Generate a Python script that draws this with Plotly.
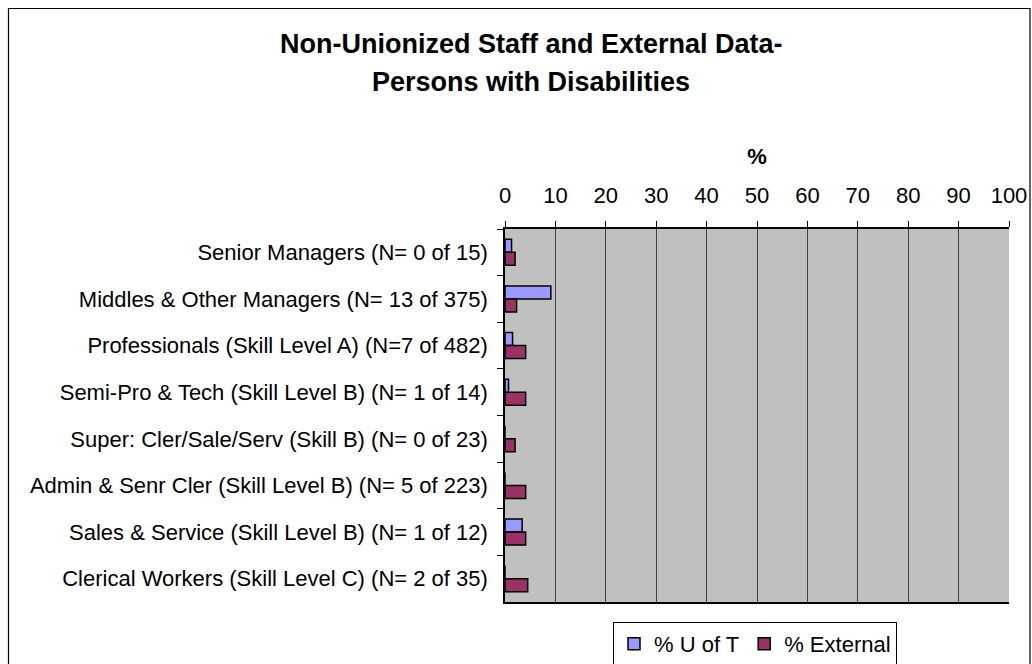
import plotly.graph_objects as go

categories = [
    "Senior Managers (N= 0 of 15)",
    "Middles & Other Managers (N= 13 of 375)",
    "Professionals (Skill Level A) (N=7 of 482)",
    "Semi-Pro & Tech (Skill Level B) (N= 1 of 14)",
    "Super: Cler/Sale/Serv (Skill B) (N= 0 of 23)",
    "Admin & Senr Cler (Skill Level B) (N= 5 of 223)",
    "Sales & Service (Skill Level B) (N= 1 of 12)",
    "Clerical Workers (Skill Level C) (N= 2 of 35)",
]
u_of_t = [1.3, 9.1, 1.5, 0.7, 0, 0, 3.4, 0]
external = [2.0, 2.3, 4.1, 4.1, 2.0, 4.1, 4.1, 4.5]
title_lines = ["Non-Unionized Staff and External Data-", "Persons with Disabilities"]

W, H = 1032, 664
ML, MR, MT, MB = 505, 23, 229, 62
pw = W - ML - MR
ph = H - MT - MB


def px_(xfig):
    """figure pixel column -> paper x"""
    return (xfig - ML) / pw


def py(yfig):
    """figure pixel row -> paper y"""
    return (H - MB - yfig) / ph


fig = go.Figure()
fig.add_trace(go.Bar(
    y=categories, x=u_of_t, orientation="h", name="% U of T",
    marker=dict(color="#9999FF", line=dict(color="black", width=1.5)),
))
fig.add_trace(go.Bar(
    y=categories, x=external, orientation="h", name="% External",
    marker=dict(color="#993366", line=dict(color="black", width=1.5)),
))

# outer chart-area border (chart starts 8px in from the corner)
fig.add_shape(
    type="rect", xref="paper", yref="paper",
    x0=px_(8.5), x1=px_(1030), y0=py(H + 20), y1=py(8.5),
    line=dict(color="black", width=1.2), layer="below",
)

# two-line bold title
for line, yc in zip(title_lines, [44, 82]):
    fig.add_annotation(
        text=f"<b>{line}</b>", xref="paper", yref="paper",
        x=px_(531), y=py(yc), xanchor="center", yanchor="middle",
        showarrow=False, font=dict(size=27),
    )

fig.update_layout(
    width=W, height=H,
    margin=dict(l=ML, r=MR, t=MT, b=MB, autoexpand=False),
    paper_bgcolor="white", plot_bgcolor="#C0C0C0",
    font=dict(family="Liberation Sans, Arial", size=22, color="black"),
    barmode="group", bargap=0.44, bargroupgap=0,
    showlegend=True,
    legend=dict(
        orientation="h", x=px_(755), xanchor="center",
        y=py(622), yanchor="top",
        bordercolor="black", borderwidth=1, bgcolor="white",
        font=dict(size=22), traceorder="normal",
    ),
)
fig.update_xaxes(
    range=[0, 100], dtick=10, side="top", automargin=False,
    title=dict(text="<b>%</b>", font=dict(size=22), standoff=13),
    showgrid=True, gridcolor="#404040", gridwidth=1,
    showline=True, linecolor="black", linewidth=1.5, mirror=True,
    ticks="outside", ticklen=6, tickcolor="black", ticklabelstandoff=9,
    zeroline=False,
)
fig.update_yaxes(
    autorange="reversed", automargin=False,
    showline=True, linecolor="black", linewidth=1.5,
    ticks="outside", tickson="boundaries", ticklen=6, tickcolor="black",
    ticklabelstandoff=11,
)

fig.write_html(
    "out.html",
    config={"displayModeBar": False},
    post_script="document.body.style.margin = '0';",
)
